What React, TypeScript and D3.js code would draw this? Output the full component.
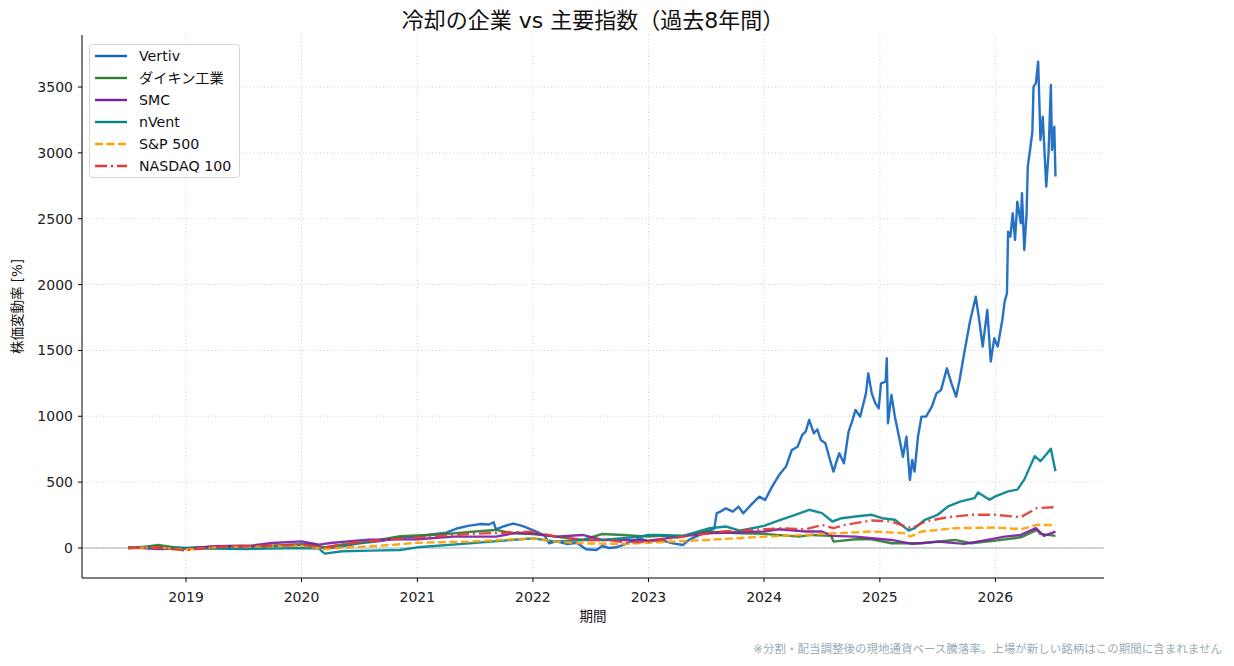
import React from "react";
import * as d3 from "d3";

type Pt = [number, number];

// [decimal year, % change]
const VERTIV: Pt[] = [
  [2018.5, 0], [2018.65, 8], [2018.8, 12], [2018.95, -5], [2019.1, 2], [2019.3, 8], [2019.5, 5], [2019.7, 10],
  [2019.9, 25], [2020.1, 30], [2020.2, -5], [2020.3, 5], [2020.5, 35], [2020.7, 55], [2020.85, 80], [2021.0, 86],
  [2021.1, 100], [2021.25, 116], [2021.35, 150], [2021.45, 170], [2021.55, 182], [2021.62, 178], [2021.66, 195],
  [2021.68, 142], [2021.75, 165], [2021.83, 185], [2021.9, 170], [2021.94, 157], [2022.03, 124], [2022.1, 95],
  [2022.14, 35], [2022.2, 50], [2022.3, 30], [2022.38, 40], [2022.46, -10], [2022.55, -15], [2022.6, 15],
  [2022.66, 0], [2022.72, 5], [2022.8, 30], [2022.88, 60], [2022.93, 73], [2023.0, 48], [2023.1, 61],
  [2023.21, 35], [2023.3, 23], [2023.35, 61], [2023.42, 90], [2023.5, 124], [2023.57, 149], [2023.59, 263],
  [2023.63, 280], [2023.67, 301], [2023.73, 276], [2023.78, 314], [2023.82, 263], [2023.9, 339], [2023.96, 390],
  [2024.01, 364], [2024.07, 466], [2024.13, 554], [2024.19, 618], [2024.24, 744], [2024.29, 769], [2024.33, 858],
  [2024.36, 883], [2024.39, 972], [2024.43, 871], [2024.46, 900], [2024.49, 820], [2024.53, 795], [2024.57, 668],
  [2024.6, 580], [2024.62, 640], [2024.65, 719], [2024.69, 643], [2024.73, 883], [2024.76, 960], [2024.79, 1048],
  [2024.83, 997], [2024.88, 1174], [2024.9, 1326], [2024.93, 1174], [2024.96, 1100], [2024.99, 1060],
  [2025.01, 1250], [2025.05, 1263], [2025.06, 1440], [2025.07, 947], [2025.1, 1162], [2025.13, 997],
  [2025.16, 871], [2025.2, 693], [2025.23, 845], [2025.26, 516], [2025.28, 668], [2025.3, 580], [2025.33, 845],
  [2025.36, 997], [2025.4, 997], [2025.45, 1073], [2025.49, 1174], [2025.53, 1200], [2025.58, 1364],
  [2025.62, 1250], [2025.66, 1149], [2025.69, 1276], [2025.73, 1478], [2025.78, 1719], [2025.83, 1908],
  [2025.86, 1731], [2025.89, 1529], [2025.93, 1807], [2025.96, 1415], [2025.99, 1592], [2026.02, 1529],
  [2026.06, 1731], [2026.08, 1870], [2026.1, 1934], [2026.11, 2402], [2026.13, 2364], [2026.15, 2541],
  [2026.17, 2339], [2026.19, 2630], [2026.22, 2465], [2026.23, 2693], [2026.25, 2263], [2026.27, 2541],
  [2026.28, 2895], [2026.3, 3022], [2026.32, 3161], [2026.33, 3503], [2026.35, 3528], [2026.37, 3693],
  [2026.38, 3402], [2026.39, 3098], [2026.41, 3275], [2026.44, 2744], [2026.46, 2997], [2026.48, 3516],
  [2026.49, 3022], [2026.51, 3199], [2026.52, 2820],
];

const DAIKIN: Pt[] = [
  [2018.5, 0], [2018.65, 10], [2018.76, 23], [2018.9, 5], [2019.0, 0], [2019.2, 8], [2019.42, 13], [2019.7, 15],
  [2020.0, 25], [2020.2, 5], [2020.35, 25], [2020.6, 50], [2020.85, 90], [2021.0, 95], [2021.15, 100],
  [2021.31, 111], [2021.5, 125], [2021.68, 137], [2021.83, 111], [2022.0, 106], [2022.2, 86], [2022.43, 61],
  [2022.6, 106], [2022.78, 99], [2023.0, 86], [2023.1, 92], [2023.3, 92], [2023.5, 125], [2023.79, 112],
  [2024.0, 107], [2024.3, 86], [2024.41, 99], [2024.58, 92], [2024.6, 48], [2024.79, 66], [2024.93, 66],
  [2025.1, 36], [2025.36, 36], [2025.65, 61], [2025.79, 36], [2026.0, 56], [2026.22, 81], [2026.36, 137],
  [2026.39, 107], [2026.52, 92],
];

const SMC: Pt[] = [
  [2018.5, 5], [2018.76, -8], [2019.0, -5], [2019.25, 13], [2019.58, 20], [2019.75, 38], [2020.0, 50],
  [2020.15, 25], [2020.25, 38], [2020.58, 63], [2021.0, 66], [2021.31, 86], [2021.68, 86], [2021.86, 116],
  [2022.0, 111], [2022.2, 86], [2022.43, 99], [2022.6, 61], [2022.78, 61], [2023.0, 56], [2023.5, 112],
  [2024.0, 125], [2024.13, 142], [2024.36, 125], [2024.5, 125], [2024.59, 92], [2024.79, 86], [2024.93, 74],
  [2025.1, 61], [2025.28, 31], [2025.5, 48], [2025.73, 31], [2025.93, 61], [2026.08, 86], [2026.22, 99],
  [2026.35, 150], [2026.42, 92], [2026.52, 125],
];

const NVENT: Pt[] = [
  [2018.5, 0], [2018.75, 5], [2019.0, -3], [2019.5, -8], [2020.0, 0], [2020.15, -5], [2020.2, -43],
  [2020.35, -25], [2020.6, -20], [2020.85, -15], [2021.0, 5], [2021.45, 35], [2022.0, 73], [2022.2, 48],
  [2022.43, 61], [2022.6, 61], [2022.93, 86], [2023.0, 99], [2023.1, 99], [2023.3, 92], [2023.53, 150],
  [2023.67, 163], [2023.79, 132], [2023.9, 150], [2024.0, 168], [2024.13, 209], [2024.27, 252], [2024.39, 290],
  [2024.5, 265], [2024.59, 201], [2024.67, 226], [2024.79, 239], [2024.93, 252], [2025.02, 226], [2025.13, 214],
  [2025.25, 132], [2025.3, 150], [2025.39, 214], [2025.5, 252], [2025.59, 315], [2025.7, 354], [2025.82, 379],
  [2025.85, 422], [2025.95, 366], [2026.0, 392], [2026.11, 430], [2026.19, 443], [2026.25, 519], [2026.34, 697],
  [2026.39, 659], [2026.44, 710], [2026.48, 753], [2026.52, 583],
];

const SP500: Pt[] = [
  [2018.5, 0], [2018.75, 5], [2018.98, -13], [2019.3, 8], [2019.6, 10], [2020.0, 18], [2020.2, -8], [2020.4, 5],
  [2020.6, 13], [2020.8, 25], [2021.0, 40], [2021.45, 48], [2022.0, 73], [2022.2, 48], [2022.43, 35],
  [2022.78, 30], [2023.0, 40], [2023.5, 61], [2024.0, 86], [2024.36, 99], [2024.64, 112], [2024.93, 125],
  [2025.22, 112], [2025.26, 86], [2025.36, 125], [2025.65, 150], [2026.0, 155], [2026.22, 142], [2026.36, 175],
  [2026.52, 175],
];

const NASDAQ100: Pt[] = [
  [2018.5, 0], [2018.75, 5], [2018.98, -18], [2019.3, 8], [2019.6, 15], [2020.0, 25], [2020.2, 5], [2020.45, 40],
  [2020.7, 60], [2021.0, 80], [2021.45, 106], [2021.74, 116], [2022.0, 124], [2022.2, 86], [2022.43, 61],
  [2022.66, 61], [2022.8, 40], [2023.0, 48], [2023.3, 86], [2023.64, 125], [2024.0, 142], [2024.16, 150],
  [2024.36, 142], [2024.5, 175], [2024.6, 150], [2024.7, 175], [2024.93, 209], [2025.1, 201], [2025.22, 163],
  [2025.28, 150], [2025.39, 201], [2025.59, 234], [2025.79, 252], [2026.0, 252], [2026.22, 234], [2026.36, 303],
  [2026.52, 310],
];

const SERIES = [
  { label: "Vertiv", data: VERTIV, color: "#1565c0", dash: "" },
  { label: "ダイキン工業", data: DAIKIN, color: "#2e7d32", dash: "" },
  { label: "SMC", data: SMC, color: "#7b1fa2", dash: "" },
  { label: "nVent", data: NVENT, color: "#00838f", dash: "" },
  { label: "S&P 500", data: SP500, color: "#ffa000", dash: "8,3.5" },
  { label: "NASDAQ 100", data: NASDAQ100, color: "#e53935", dash: "12,4,2,4" },
];

const Y_TICKS = [0, 500, 1000, 1500, 2000, 2500, 3000, 3500];
const X_YEARS = [2019, 2020, 2021, 2022, 2023, 2024, 2025, 2026];

const FONT = "'DejaVu Sans', 'Noto Sans CJK JP', sans-serif";

function toDate(y: number) {
  const yr = Math.floor(y);
  const a = +new Date(yr, 0, 1);
  const b = +new Date(yr + 1, 0, 1);
  return new Date(a + (y - yr) * (b - a));
}

export default function App() {
  const W = 1234, H = 666;
  const m = { left: 82, right: 1104, top: 35, bottom: 578 };

  const x = d3.scaleTime().domain([toDate(2018.1), toDate(2026.94)]).range([m.left, m.right]);
  const y = d3.scaleLinear().domain([-228, 3895]).range([m.bottom, m.top]);

  const line = d3.line<Pt>()
    .x((d) => x(toDate(d[0])))
    .y((d) => y(d[1]));

  return (
    <svg width={W} height={H} style={{ position: "absolute", left: 0, top: 0, fontFamily: FONT }}>
      <rect width={W} height={H} fill="#fff" />

      {/* grid */}
      {Y_TICKS.map((t) => (
        <line key={"gy" + t} x1={m.left} x2={m.right} y1={y(t)} y2={y(t)}
          stroke="#c8c8c8" strokeWidth={0.9} strokeDasharray="1,2.5" />
      ))}
      {X_YEARS.map((yr) => (
        <line key={"gx" + yr} x1={x(toDate(yr))} x2={x(toDate(yr))} y1={m.top} y2={m.bottom}
          stroke="#c8c8c8" strokeWidth={0.9} strokeDasharray="1,2.5" />
      ))}

      {/* zero line */}
      <line x1={m.left} x2={m.right} y1={y(0)} y2={y(0)} stroke="#90a4ae" strokeWidth={1} opacity={0.8} />

      {/* series */}
      {SERIES.map((s) => (
        <path key={s.label} d={line(s.data) || ""} fill="none" stroke={s.color} strokeWidth={2.4}
          strokeDasharray={s.dash || undefined} strokeLinejoin="round" opacity={0.92} />
      ))}

      {/* axes */}
      <line x1={m.left} x2={m.left} y1={m.top} y2={m.bottom} stroke="#000" strokeWidth={1} />
      <line x1={m.left} x2={m.right} y1={m.bottom} y2={m.bottom} stroke="#000" strokeWidth={1} />
      {Y_TICKS.map((t) => (
        <g key={"ty" + t}>
          <line x1={m.left - 4} x2={m.left} y1={y(t)} y2={y(t)} stroke="#000" />
          <text x={m.left - 9} y={y(t)} dy="0.36em" textAnchor="end" fontSize={14} fill="#222">{t}</text>
        </g>
      ))}
      {X_YEARS.map((yr) => (
        <g key={"tx" + yr}>
          <line x1={x(toDate(yr))} x2={x(toDate(yr))} y1={m.bottom} y2={m.bottom + 4} stroke="#000" />
          <text x={x(toDate(yr))} y={m.bottom + 24} textAnchor="middle" fontSize={14} fill="#222">{yr}</text>
        </g>
      ))}

      {/* labels */}
      <text x={(m.left + m.right) / 2} y={28} textAnchor="middle" fontSize={22} fill="#111">
        冷却の企業 vs 主要指数（過去8年間）
      </text>
      <text x={(m.left + m.right) / 2} y={621} textAnchor="middle" fontSize={13.5} fill="#111">期間</text>
      <text transform={`translate(22,${(m.top + m.bottom) / 2}) rotate(-90)`} textAnchor="middle"
        fontSize={13.5} fill="#111">株価変動率 [%]</text>
      <text x={1222} y={653} textAnchor="end" fontSize={11.5} fill="#9aabb5">
        ※分割・配当調整後の現地通貨ベース騰落率。上場が新しい銘柄はこの期間に含まれません
      </text>

      {/* legend */}
      <rect x={89.5} y={44.5} width={150} height={133} rx={3} fill="#fff" fillOpacity={0.85} stroke="#d5d5d5" />
      {SERIES.map((s, i) => (
        <g key={"lg" + s.label} transform={`translate(0,${56 + i * 22})`}>
          <line x1={95} x2={127} y1={0} y2={0} stroke={s.color} strokeWidth={2.4}
            strokeDasharray={s.dash || undefined} />
          <text x={139} y={0} dy="0.36em" fontSize={14.2} fill="#111">{s.label}</text>
        </g>
      ))}
    </svg>
  );
}
